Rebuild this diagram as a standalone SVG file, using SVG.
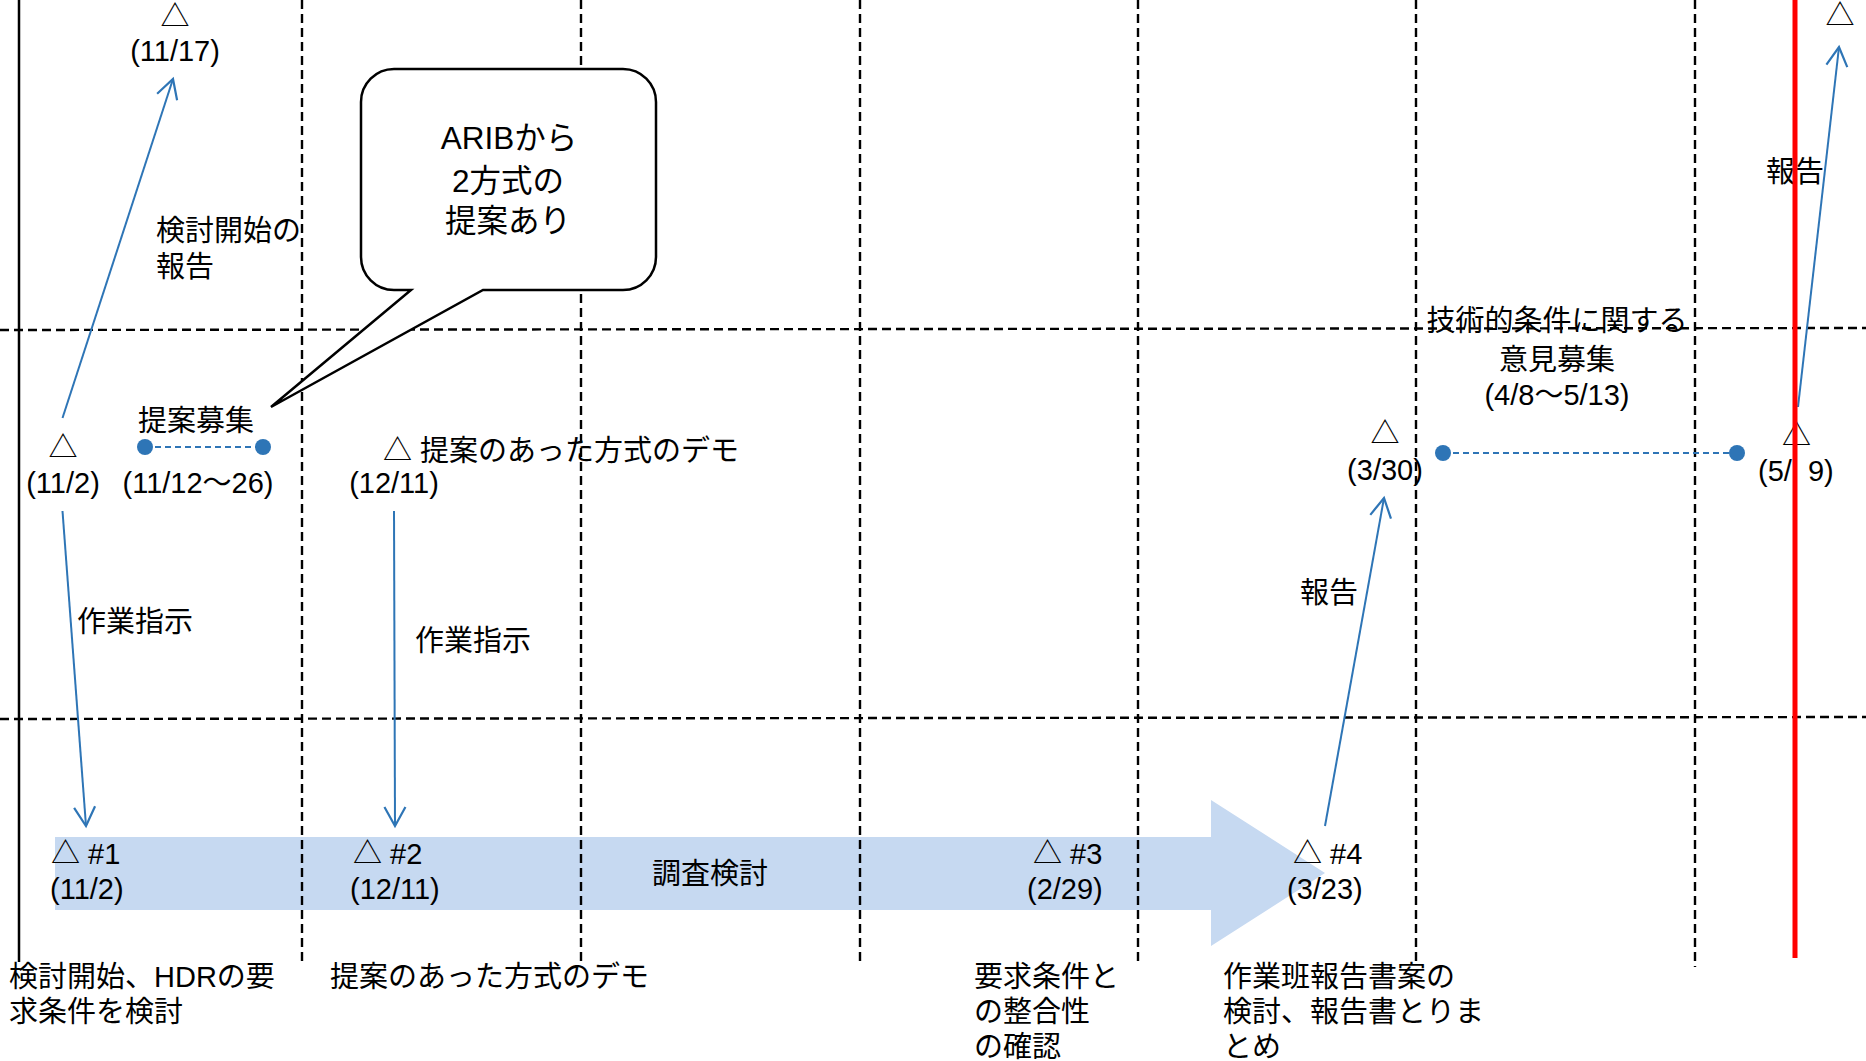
<svg xmlns="http://www.w3.org/2000/svg" width="1866" height="1061" viewBox="0 0 1866 1061">
<style>
.t{font-family:"Liberation Sans","Noto Sans CJK JP",sans-serif;font-size:29px;fill:#000}
.big{font-size:31.5px}
.m{text-anchor:middle}
.pre{white-space:pre}
.g{stroke:#000;stroke-width:2.4;stroke-dasharray:9 5;fill:none}
.c{stroke:#2E75B6;stroke-width:2;fill:none}
.d{stroke:#2E75B6;stroke-width:2;stroke-dasharray:6 4;fill:none}
.dot{fill:#2E75B6}
</style>
<defs>
<marker id="ah" viewBox="-24 -14 28 28" refX="0" refY="0" markerWidth="28" markerHeight="28" markerUnits="userSpaceOnUse" orient="auto">
<path d="M-19,-10.5 L0,0 L-19,10.5" fill="none" stroke="#2E75B6" stroke-width="2.2"/>
</marker>
</defs>
<rect width="1866" height="1061" fill="#fff"/>
<g id="band">
<path d="M55,837 H1211 V800 L1325,873 L1211,946 V910 H55 Z" fill="#C6D9F1"/>
</g>
<g id="grid">
<line x1="19" y1="0" x2="19" y2="962" stroke="#000" stroke-width="2.5"/>
<line class="g" x1="0" y1="330" x2="1866" y2="328"/>
<line class="g" x1="0" y1="719" x2="1866" y2="717"/>
<line class="g" x1="302" y1="0" x2="302" y2="964"/>
<line class="g" x1="581" y1="0" x2="581" y2="964"/>
<line class="g" x1="860" y1="0" x2="860" y2="965"/>
<line class="g" x1="1138" y1="0" x2="1138" y2="965"/>
<line class="g" x1="1416" y1="0" x2="1416" y2="966"/>
<line class="g" x1="1695" y1="0" x2="1695" y2="967"/>
</g>
<g id="callout">
<path d="M394,69 H623 A33,33 0 0 1 656,102 V257 A33,33 0 0 1 623,290 H483 L271,407 L411,290 H394 A33,33 0 0 1 361,257 V102 A33,33 0 0 1 394,69 Z" fill="#fff" stroke="#000" stroke-width="2.5"/>
<text class="t big m" x="509" y="149">ARIBから</text>
<text class="t big m" x="508" y="192">2方式の</text>
<text class="t big m" x="508" y="232">提案あり</text>
</g>
<g id="connectors">
<line class="c" x1="62.5" y1="418" x2="173" y2="79" marker-end="url(#ah)"/>
<line class="c" x1="62.5" y1="511" x2="86" y2="826" marker-end="url(#ah)"/>
<line class="c" x1="394" y1="511" x2="395" y2="826" marker-end="url(#ah)"/>
<line class="c" x1="1325" y1="826" x2="1384" y2="498" marker-end="url(#ah)"/>
<line class="c" x1="1798" y1="407" x2="1839" y2="47" marker-end="url(#ah)"/>
<line class="d" x1="145" y1="447" x2="263" y2="447"/>
<line class="d" x1="1443" y1="453" x2="1737" y2="453"/>
<circle class="dot" cx="145" cy="447" r="8"/>
<circle class="dot" cx="263" cy="447" r="8"/>
<circle class="dot" cx="1443" cy="453" r="8"/>
<circle class="dot" cx="1737" cy="453" r="8"/>
</g>
<g id="n-1117">
<text class="t m" x="175" y="27">△</text>
<text class="t m" x="175" y="61">(11/17)</text>
</g>
<g id="n-report1">
<text class="t" x="156" y="241">検討開始の</text>
<text class="t" x="156" y="277">報告</text>
</g>
<g id="n-112">
<text class="t m" x="63" y="458">△</text>
<text class="t m" x="63" y="493">(11/2)</text>
</g>
<g id="n-proposal">
<text class="t m" x="196" y="431">提案募集</text>
<text class="t m" x="198" y="493">(11/12～26)</text>
</g>
<g id="n-demo">
<text class="t" x="383" y="461">△ 提案のあった方式のデモ</text>
<text class="t m" x="394" y="493">(12/11)</text>
</g>
<g id="n-instr1"><text class="t" x="77" y="632">作業指示</text></g>
<g id="n-instr2"><text class="t" x="415" y="651">作業指示</text></g>
<g id="n-m1">
<text class="t" x="51" y="864">△ #1</text>
<text class="t" x="50" y="899">(11/2)</text>
</g>
<g id="n-m2">
<text class="t" x="353" y="864">△ #2</text>
<text class="t" x="350" y="899">(12/11)</text>
</g>
<g id="n-study"><text class="t" x="652" y="884">調査検討</text></g>
<g id="n-m3">
<text class="t" x="1033" y="864">△ #3</text>
<text class="t" x="1027" y="899">(2/29)</text>
</g>
<g id="n-m4">
<text class="t" x="1293" y="864">△ #4</text>
<text class="t" x="1287" y="899">(3/23)</text>
</g>
<g id="n-b1">
<text class="t" x="9" y="987">検討開始、HDRの要</text>
<text class="t" x="9" y="1022">求条件を検討</text>
</g>
<g id="n-b2"><text class="t" x="330" y="987">提案のあった方式のデモ</text></g>
<g id="n-b3">
<text class="t" x="974" y="987">要求条件と</text>
<text class="t" x="974" y="1022">の整合性</text>
<text class="t" x="974" y="1057">の確認</text>
</g>
<g id="n-b4">
<text class="t" x="1223" y="987">作業班報告書案の</text>
<text class="t" x="1223" y="1022">検討、報告書とりま</text>
<text class="t" x="1223" y="1057">とめ</text>
</g>
<g id="n-report2"><text class="t" x="1300" y="603">報告</text></g>
<g id="n-330">
<text class="t m" x="1385" y="444">△</text>
<text class="t m" x="1385" y="480">(3/30)</text>
</g>
<g id="n-comment">
<text class="t m" x="1557" y="331">技術的条件に関する</text>
<text class="t m" x="1557" y="370">意見募集</text>
<text class="t m" x="1557" y="405">(4/8～5/13)</text>
</g>
<g id="n-519">
<text class="t m" x="1796.5" y="446">△</text>
<text class="t pre" xml:space="preserve" x="1758" y="481">(5/  9)</text>
</g>
<g id="n-top-right"><text class="t m" x="1840" y="26">△</text></g>
<g id="n-report3"><text class="t" x="1766" y="182">報告</text></g>
<g id="deadline">
<line x1="1795" y1="0" x2="1795" y2="958" stroke="#FF0000" stroke-width="5"/>
</g>
</svg>
